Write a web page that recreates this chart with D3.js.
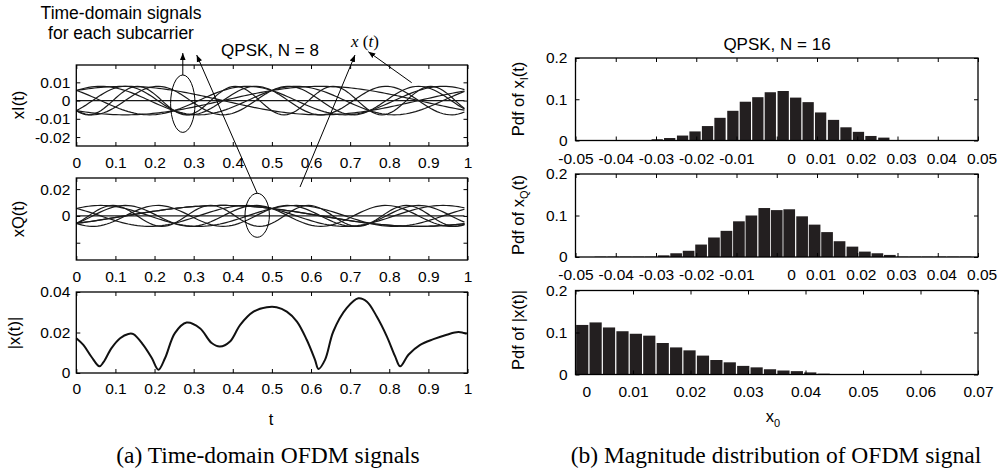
<!DOCTYPE html>
<html><head><meta charset="utf-8">
<script src="https://cdn.jsdelivr.net/npm/d3@7"></script>
<style>body{margin:0;background:#fff}svg{display:block}</style>
</head><body>
<svg id="chart" width="1007" height="471"></svg>
<script>
// ---------------- data ----------------
// (a) time axis
const tTicks=[0,0.1,0.2,0.3,0.4,0.5,0.6,0.7,0.8,0.9,1];
const tLabels=["0","0.1","0.2","0.3","0.4","0.5","0.6","0.7","0.8","0.9","1"];
const xITicks=[0.01,0,-0.01,-0.02], xILabels=["0.01","0","-0.01","-0.02"];
const xQTicks=[0.02,0,-0.02], xQLabels=["0.02","0",""];
const magTicks=[0,0.02,0.04], magLabels=["0","0.02","0.04"];
// QPSK, N = 8 subcarriers: frequency index and QPSK symbol (I, Q) of each one
// (subcarrier 0 carries no symbol -> the flat line at 0)
const subcarrierFreq=[0,1,2,3,-4,-3,-2,-1];
const symbolI=[0,1,1,-1,-1,-1,1,-1];
const symbolQ=[0,-1,1,-1,-1,-1,1,-1];
const oversampledLength=128;   // N*L samples per symbol
// |x(t)|
const magT=[0,0.018,0.039,0.059,0.069,0.090,0.112,0.133,0.146,0.171,0.193,0.210,0.227,0.252,0.282,0.316,0.346,0.367,0.393,0.419,0.453,0.487,0.512,0.538,0.564,0.589,0.610,0.619,0.636,0.657,0.691,0.721,0.743,0.768,0.794,0.815,0.828,0.849,0.879,0.913,0.947,0.977,0.998];
const magV=[0.0172,0.0139,0.0079,0.0033,0.0052,0.0123,0.0172,0.0193,0.0192,0.0139,0.0074,0.0016,0.0074,0.0197,0.0249,0.0221,0.0148,0.0131,0.0156,0.0238,0.0303,0.0325,0.0325,0.0303,0.0254,0.0164,0.0066,0.0020,0.0066,0.0205,0.0320,0.0369,0.0352,0.0279,0.0180,0.0082,0.0033,0.0090,0.0139,0.0167,0.0189,0.0202,0.0193];

// (b) histograms (QPSK, N = 16)
const pdfTicks=[0,0.1,0.2], pdfLabels=["0","0.1","0.2"];
const symTicks=[-0.05,-0.04,-0.03,-0.02,-0.01,0,0.01,0.02,0.03,0.04,0.05];
const symLabels=["-0.05","-0.04","-0.03","-0.02","-0.01","0","0.01","0.02","0.03","0.04","0.05"];
const absTicks=[0,0.01,0.02,0.03,0.04,0.05,0.06,0.07];
const absLabels=["0","0.01","0.02","0.03","0.04","0.05","0.06","0.07"];
const binI=[-0.0484,-0.0453,-0.0422,-0.0391,-0.0359,-0.0328,-0.0297,-0.0266,-0.0234,-0.0203,-0.0172,-0.0141,-0.0109,-0.0078,-0.0047,-0.0016,0.0016,0.0047,0.0078,0.0109,0.0141,0.0172,0.0203,0.0234,0.0266,0.0297,0.0328,0.0359,0.0391,0.0422,0.0453,0.0484];
const pdfI=[0.0008,0.0008,0.0008,0.0008,0.0008,0.0008,0.003,0.006,0.012,0.022,0.035,0.055,0.072,0.094,0.105,0.117,0.120,0.104,0.093,0.068,0.050,0.032,0.021,0.011,0.007,0.0008,0.0008,0.0008,0.0008,0.0008,0,0];
const binQ=[-0.0438,-0.0406,-0.0375,-0.0344,-0.0313,-0.0281,-0.025,-0.0219,-0.0188,-0.0156,-0.0125,-0.0094,-0.0063,-0.0031,0,0.0031,0.0063,0.0094,0.0125,0.0156,0.0188,0.0219,0.025,0.0281,0.0313,0.0344,0.0375,0.0406,0.0438,0.0469];
const pdfQ=[0.0008,0.0008,0.0008,0.0008,0.0008,0.004,0.009,0.015,0.030,0.047,0.063,0.086,0.100,0.118,0.113,0.115,0.098,0.078,0.060,0.038,0.025,0.013,0.009,0.005,0.0008,0.0008,0.0008,0.0008,0.0008,0.0008];
const binA=[0.00117,0.0035,0.00583,0.00817,0.0105,0.01283,0.01517,0.0175,0.01983,0.02217,0.0245,0.02683,0.02917,0.0315,0.03383,0.03617,0.0385,0.04083,0.04317,0.0455,0.04783,0.05017,0.0525,0.05483,0.05717,0.0595,0.06183,0.06417,0.0665,0.06883];
const pdfA=[0.118,0.124,0.112,0.103,0.097,0.0925,0.075,0.0645,0.0575,0.045,0.0345,0.029,0.0205,0.017,0.0125,0.0095,0.008,0.005,0.002,0.0008,0.0008,0.0008,0.0008,0.0008,0.0008,0.0008,0.0008,0.0008,0.0008,0.0008];

// ---------------- drawing ----------------
const svg=d3.select("#chart");
const SANS="'Liberation Sans',Arial,Helvetica,sans-serif";
const SERIF="'Liberation Serif','Times New Roman',serif";

function frame(x,y,xt,xl,yt,yl,o){
  const g=svg.append("g");
  const [x0,x1]=x.range(),[y0,y1]=y.range();
  g.append("g").attr("transform",`translate(0,${y0})`).attr("class","xb")
   .call(d3.axisBottom(x).tickValues(xt).tickFormat((d,i)=>xl[i]).tickSize(-4).tickPadding(o.xpad));
  g.append("g").attr("transform",`translate(0,${y1})`)
   .call(d3.axisTop(x).tickValues(xt).tickFormat("").tickSize(-4));
  g.append("g").attr("transform",`translate(${x0},0)`)
   .call(d3.axisLeft(y).tickValues(yt).tickFormat((d,i)=>yl[i]).tickSize(-4).tickPadding(o.ypad));
  g.append("g").attr("transform",`translate(${x1},0)`)
   .call(d3.axisRight(y).tickValues(yt).tickFormat("").tickSize(-4));
  g.selectAll(".domain").remove();
  g.selectAll(".tick line").attr("stroke","#000").attr("stroke-width",1);
  g.selectAll(".tick text").attr("font-family",SANS).attr("font-size",15.5).attr("fill","#000");
  if(o.padShift){
    const mx=d3.max(xl,s=>s.length);
    g.select(".xb").selectAll(".tick text").attr("dx",(d,i)=>(mx-xl[i].length)*3.6);
  }
  g.append("rect").attr("x",x0).attr("y",y1).attr("width",x1-x0).attr("height",y0-y1)
   .attr("fill","none").attr("stroke","#000").attr("stroke-width",1.3);
  return g;
}
function ylabel(x,y,txt,sub,rest){
  const t=svg.append("text").attr("transform",`translate(${x},${y}) rotate(-90)`)
   .attr("text-anchor","middle").attr("font-family",SANS).attr("font-size",16.5).attr("fill","#000");
  t.append("tspan").text(txt);
  if(sub){t.append("tspan").attr("font-size",11).attr("dy",4).text(sub);
    t.append("tspan").attr("dy",-4).text(rest);}
}

// ----- (a) -----
const xL=d3.scaleLinear().domain([0,1]).range([76.3,467.5]);
const y1=d3.scaleLinear().domain([-0.0249,0.0195]).range([146,65]);
const y2=d3.scaleLinear().domain([-0.0329,0.0283]).range([260,178]);
const y3=d3.scaleLinear().domain([0,0.04]).range([373,292]);

// time samples of one OFDM symbol (oversampled IFFT grid)
const tSamples=d3.range(oversampledLength).map(n=>n/oversampledLength);
// each subcarrier: X_k e^{j2pi f_k t} / (N L), QPSK symbol normalised by sqrt(2)
const subI=[],subQ=[];
subcarrierFreq.forEach((f,k)=>{
  const a=symbolI[k]/Math.SQRT2/oversampledLength, b=symbolQ[k]/Math.SQRT2/oversampledLength;
  subI.push(tSamples.map(t=>[t,a*Math.cos(2*Math.PI*f*t)-b*Math.sin(2*Math.PI*f*t)]));
  subQ.push(tSamples.map(t=>[t,a*Math.sin(2*Math.PI*f*t)+b*Math.cos(2*Math.PI*f*t)]));
});
const lineI=d3.line().x(d=>xL(d[0])).y(d=>y1(d[1]));
const lineQ=d3.line().x(d=>xL(d[0])).y(d=>y2(d[1]));
svg.append("g").selectAll("path").data(subI).join("path").attr("d",lineI)
 .attr("fill","none").attr("stroke","#1a1a1a").attr("stroke-width",1.2);
svg.append("g").selectAll("path").data(subQ).join("path").attr("d",lineQ)
 .attr("fill","none").attr("stroke","#1a1a1a").attr("stroke-width",1.2);
svg.append("path").datum(magT.map((t,i)=>[t,magV[i]]))
 .attr("d",d3.line().x(d=>xL(d[0])).y(d=>y3(d[1])).curve(d3.curveCatmullRom.alpha(0.5)))
 .attr("fill","none").attr("stroke","#111").attr("stroke-width",2);

frame(xL,y1,tTicks,tLabels,xITicks,xILabels,{xpad:11,ypad:6});
frame(xL,y2,tTicks,tLabels,xQTicks,xQLabels,{xpad:11,ypad:6});
frame(xL,y3,tTicks,tLabels,magTicks,magLabels,{xpad:10,ypad:6});
ylabel(24,105,"xI(t)");ylabel(24,219,"xQ(t)");ylabel(20,333,"|x(t)|");

// ----- (b) -----
const xR=d3.scaleLinear().domain([-0.05,0.05]).range([575.5,978]);
const xA=d3.scaleLinear().domain([0,0.07]).range([575.5,978]);
const r1=d3.scaleLinear().domain([0,0.2]).range([140.5,58]);
const r2=d3.scaleLinear().domain([0,0.2]).range([257,174]);
const r3=d3.scaleLinear().domain([0,0.2]).range([374.5,290.5]);
function bars(x,y,c,v){
  const w=Math.abs(x(c[1])-x(c[0]));
  svg.append("g").selectAll("rect").data(c).join("rect")
   .attr("x",d=>x(d)-w/2+0.6).attr("width",w-1.2)
   .attr("y",(d,i)=>y(v[i])).attr("height",(d,i)=>y(0)-y(v[i])).attr("fill","#231f20");
}
bars(xR,r1,binI,pdfI);bars(xR,r2,binQ,pdfQ);bars(xA,r3,binA,pdfA);
frame(xR,r1,symTicks,symLabels,pdfTicks,pdfLabels,{xpad:12,ypad:8,padShift:true});
frame(xR,r2,symTicks,symLabels,pdfTicks,pdfLabels,{xpad:12,ypad:8,padShift:true});
frame(xA,r3,absTicks,absLabels,pdfTicks,pdfLabels,{xpad:11,ypad:8,padShift:true});
ylabel(524,99,"Pdf of x","I","(t)");ylabel(524,215,"Pdf of x","Q","(t)");ylabel(524,330,"Pdf of |x(t)|");

// ----- texts -----
function txt(x,y,s,size,fam,anchor){return svg.append("text").attr("x",x).attr("y",y).attr("font-family",fam).attr("font-size",size).attr("text-anchor",anchor||"middle").attr("fill","#000").text(s);}
txt(270,56,"QPSK, N = 8",17,SANS);
txt(777,50,"QPSK, N = 16",17,SANS);
txt(121,19,"Time-domain signals",17.5,SANS);
txt(121,38.5,"for each subcarrier",17.5,SANS);
txt(271,425,"t",16.5,SANS);
const x0t=txt(773,422,"x",16.5,SANS);x0t.append("tspan").attr("font-size",11).attr("dy",5).text("0");
txt(268,463,"(a) Time-domain OFDM signals",23.5,SERIF);
txt(776,463,"(b) Magnitude distribution of OFDM signal",23.5,SERIF);
const xt=svg.append("text").attr("x",365).attr("y",47).attr("text-anchor","middle").attr("font-family",SERIF).attr("font-size",17).attr("fill","#000");
xt.append("tspan").attr("font-style","italic").text("x");xt.append("tspan").text(" (");xt.append("tspan").attr("font-style","italic").text("t");xt.append("tspan").text(")");

// ----- annotations -----
const defs=svg.append("defs");
defs.append("marker").attr("id","ah").attr("viewBox","0 0 10 10").attr("refX",10).attr("refY",5)
 .attr("markerWidth",7).attr("markerHeight",7).attr("markerUnits","userSpaceOnUse").attr("orient","auto")
 .append("path").attr("d","M0,1L10,5L0,9Z").attr("fill","#000");
svg.append("ellipse").attr("cx",182.8).attr("cy",103.7).attr("rx",12.2).attr("ry",28.7).attr("fill","none").attr("stroke","#000").attr("stroke-width",1);
svg.append("ellipse").attr("cx",257.2).attr("cy",215.3).attr("rx",12.2).attr("ry",22).attr("fill","none").attr("stroke","#000").attr("stroke-width",1);
[[182.8,75,182.8,53],[257.2,193.3,196.7,55],[300,187,355,55],[411.7,82.7,368.3,51.7]].forEach(l=>{
  svg.append("line").attr("x1",l[0]).attr("y1",l[1]).attr("x2",l[2]).attr("y2",l[3]).attr("stroke","#000").attr("stroke-width",1).attr("marker-end","url(#ah)");
});
</script></body></html>
